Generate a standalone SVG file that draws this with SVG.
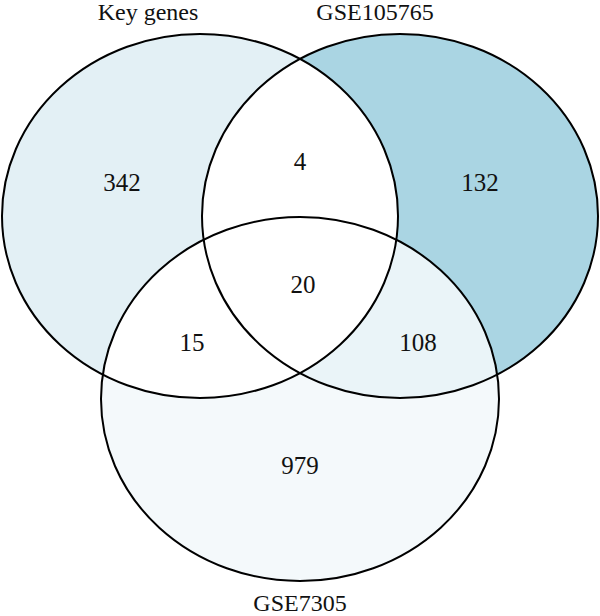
<svg xmlns="http://www.w3.org/2000/svg" width="600" height="616" viewBox="0 0 600 616">
  <style>
    .outline { fill: none; stroke: #000; stroke-width: 2; }
    .lbl { font-family: "Liberation Serif", "Times New Roman", serif; font-size: 24px; fill: #111; text-anchor: middle; }
    .num { font-family: "Liberation Serif", "Times New Roman", serif; font-size: 25px; fill: #111; text-anchor: middle; }
  </style>
  <defs>
    <ellipse id="eL" cx="200" cy="216" rx="198" ry="182"/>
    <ellipse id="eR" cx="400" cy="216" rx="198" ry="182"/>
    <ellipse id="eB" cx="300" cy="399" rx="199" ry="182"/>
    <clipPath id="clipL"><use href="#eL"/></clipPath>
    <clipPath id="clipR"><use href="#eR"/></clipPath>
  </defs>
  <rect width="600" height="616" fill="#ffffff"/>
  <g id="fills">
    <use href="#eR" fill="#aad5e3"/>
    <use href="#eL" fill="#e3f0f5"/>
    <use href="#eB" fill="#f4f9fb"/>
    <use href="#eL" fill="#ffffff" clip-path="url(#clipR)"/>
    <use href="#eB" fill="#eaf4f8" clip-path="url(#clipR)"/>
    <use href="#eB" fill="#ffffff" clip-path="url(#clipL)"/>
  </g>
  <g id="set-key-genes">
    <use href="#eL" class="outline"/>
    <text class="lbl" x="148" y="20">Key genes</text>
  </g>
  <g id="set-gse105765">
    <use href="#eR" class="outline"/>
    <text class="lbl" x="375" y="20">GSE105765</text>
  </g>
  <g id="set-gse7305">
    <use href="#eB" class="outline"/>
    <text class="lbl" x="300" y="611">GSE7305</text>
  </g>
  <g id="counts">
    <text class="num" x="122" y="191">342</text>
    <text class="num" x="300" y="170">4</text>
    <text class="num" x="480" y="191">132</text>
    <text class="num" x="303" y="293">20</text>
    <text class="num" x="192" y="351">15</text>
    <text class="num" x="418" y="351">108</text>
    <text class="num" x="300" y="474">979</text>
  </g>
  <g id="connectors"></g>
</svg>
